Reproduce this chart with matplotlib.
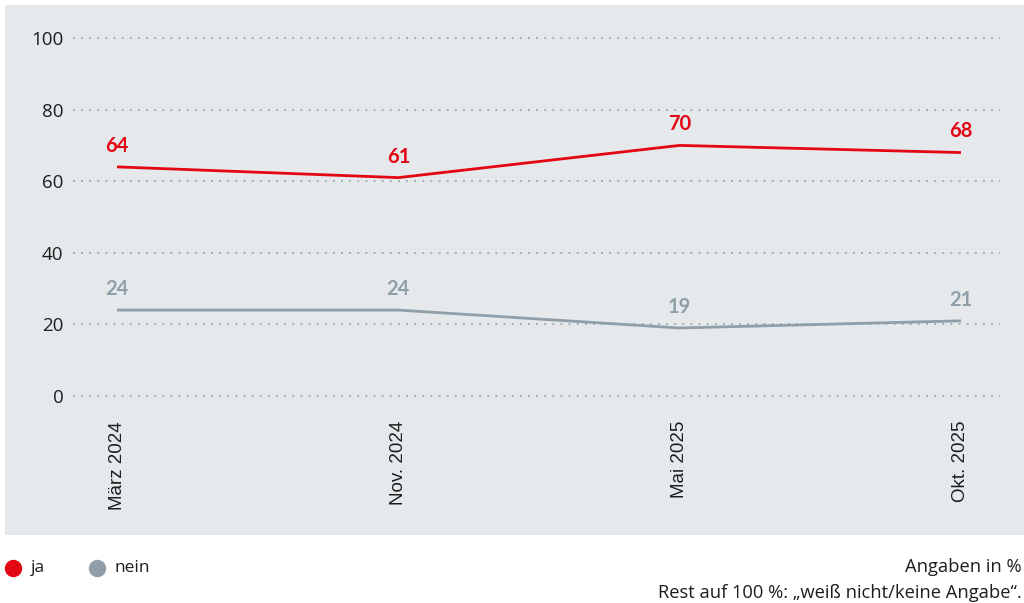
import matplotlib
matplotlib.use("Agg")
import matplotlib.pyplot as plt
from matplotlib.patches import Rectangle
from matplotlib.lines import Line2D

plt.rcParams['font.family'] = ['Open Sans', 'DejaVu Sans']

dates = ["März 2024", "Nov. 2024", "Mai 2025", "Okt. 2025"]
ja = [64, 61, 70, 68]
nein = [24, 24, 19, 21]
yticks = [0, 20, 40, 60, 80, 100]

red = "#e30613"
grey = "#909ea8"
panel = "#e5e9ec"
ink = "#1e1e1e"

fig = plt.figure(figsize=(10.24, 6.03), dpi=100)
W, H = 1024, 603

# grey background panel
fig.patches.append(Rectangle((5 / W, 1 - 535 / H), 1 - 5 / W, (535 - 5) / H,
                             transform=fig.transFigure, facecolor=panel,
                             edgecolor="none", zorder=-5))

ax = fig.add_axes([73 / W, 1 - 396 / H, (1000 - 73) / W, (396 - 38) / H])
ax.set_zorder(2)
ax.patch.set_alpha(0)
x = list(range(len(dates)))
ax.set_xlim(-(117 - 73) / 281.3, 3 + (1000 - 961) / 281.3)
ax.set_ylim(0, 100)

for y in yticks:
    ax.axhline(y, color="#9ba6ae", lw=1.3, ls=(0, (1, 3.5)), zorder=1, clip_on=False)

ax.plot(x, ja, color=red, lw=2, zorder=3, solid_capstyle="butt")
ax.plot(x, nein, color=grey, lw=2, zorder=3, solid_capstyle="butt")

for xi, v in zip(x, ja):
    ax.annotate(str(v), (xi, v), xytext=(0, 8), textcoords="offset points",
                ha="center", va="bottom", color=red, fontsize=14.5, fontweight="bold",
                family=['Lato', 'DejaVu Sans'])
for xi, v in zip(x, nein):
    ax.annotate(str(v), (xi, v), xytext=(0, 8), textcoords="offset points",
                ha="center", va="bottom", color=grey, fontsize=14.5, fontweight="bold",
                family=['Lato', 'DejaVu Sans'])

ax.set_yticks(yticks)
ax.set_yticklabels([str(t) for t in yticks], fontsize=13.5, color=ink)
ax.set_xticks(x)
ax.set_xticklabels(dates, rotation=90, fontsize=13.5, color=ink)
for lbl in ax.get_xticklabels():
    lbl.set_fontfamily(['Liberation Sans', 'DejaVu Sans'])
ax.tick_params(axis="both", length=0)
ax.tick_params(axis="y", pad=7)
ax.tick_params(axis="x", pad=18)
for s in ax.spines.values():
    s.set_visible(False)

# legend, placed by hand
for px, col, lab in [(13, red, "ja"), (97, grey, "nein")]:
    fig.add_artist(Line2D([px / W], [1 - 568 / H], marker="o", ls="none",
                          color=col, markersize=11.5, transform=fig.transFigure))
    fig.text((px + 18) / W, 1 - 568 / H, lab, ha="left", va="center",
             fontsize=12.5, color=ink)

fig.text(1022 / W, 1 - 567 / H, "Angaben in %", ha="right", va="center",
         fontsize=13.2, color=ink)
fig.text(1022 / W, 1 - 593 / H, "Rest auf 100 %: \u201eweiß nicht/keine Angabe\u201c.",
         ha="right", va="center", fontsize=13.2, color=ink)

fig.savefig("out.png", dpi=100)
